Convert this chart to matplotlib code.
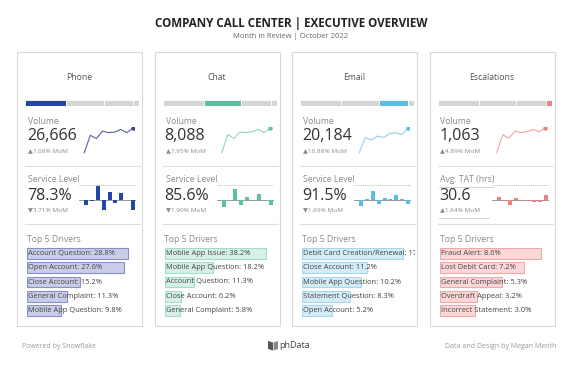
import matplotlib
matplotlib.use("Agg")
import matplotlib.pyplot as plt
from matplotlib.patches import Rectangle, Polygon

plt.rcParams['font.family'] = ['Open Sans', 'DejaVu Sans']

W, H = 582, 375

channels = ["Phone", "Chat", "Email", "Escalations"]
volume = [26666, 8088, 20184, 1063]
volume_mom = [7.68, 7.95, 10.88, 4.89]
kpi2_label = ["Service Level", "Service Level", "Service Level", "Avg. TAT (hrs)"]
kpi2_value = ["78.3%", "85.6%", "91.5%", "30.6"]
kpi2_mom = [-3.71, -1.90, -1.69, 1.64]
share = [36, 33, 26, 5]

volume_trend = [
    [16100, 23600, 22230, 25400, 24770, 24980, 26140, 24764, 26666],
    [4780, 7260, 6700, 7560, 7490, 7630, 7920, 7492, 8088],
    [12560, 17290, 16520, 17740, 17290, 18510, 18810, 18202, 20184],
    [706, 967, 920, 1020, 999, 1013, 1045, 1013, 1063],
]
kpi2_change = [
    [-1.9, -0.6, 5.0, -3.7, 2.7, -1.2, 2.5, -0.1, -3.71],
    [-2.8, -0.6, 3.9, -2.0, 1.1, -0.2, 1.9, -0.05, -1.90],
    [-2.3, 0.1, 3.2, -1.7, 0.6, 0.05, 1.7, 0.05, -1.69],
    [1.1, -0.4, -2.0, 0.7, -0.3, -0.4, -0.9, -0.9, 1.64],
]

driver_names = [
    ["Account Question", "Open Account", "Close Account", "General Complaint", "Mobile App Question"],
    ["Moblie App Issue", "Mobile App Question", "Account Question", "Close Account", "General Complaint"],
    ["Debit Card Creation/Renewal", "Close Account", "Mobile App Question", "Statement Question", "Open Account"],
    ["Fraud Alert", "Lost Debit Card", "General Complaint", "Overdraft Appeal", "Incorrect Statement"],
]
driver_pct = [
    [28.8, 27.6, 15.2, 11.3, 9.8],
    [38.2, 18.2, 11.3, 6.2, 5.8],
    [17.5, 11.2, 10.2, 8.3, 5.2],
    [8.6, 7.2, 5.3, 3.2, 3.0],
]

main_col = ["#2447a6", "#5cc1a1", "#5bbde0", "#f08080"]
line_col = ["#5b5fa6", "#8fd6c0", "#8fd0ea", "#f3a3a3"]
fill_col = ["#c9cde8", "#d6f0e8", "#d3ecf7", "#fbd7d7"]
edge_col = ["#8790c9", "#a4dccb", "#a6d7ee", "#f2a9a9"]

card_left = [17, 154.5, 292, 429.5]
card_w = 125
card_top, card_bot = 52, 326

GREY_TXT = "#8a8a8a"
DARK = "#333333"


def fx(x):
    return x / W


def fy(y):
    return 1 - y / H


def add_ax(x0, y0, x1, y1):
    ax = fig.add_axes([fx(x0), fy(y1), (x1 - x0) / W, (y1 - y0) / H])
    ax.axis("off")
    return ax


def hline(x0, x1, y, color="#dddddd", lw=0.8, ls="-"):
    fig.add_artist(plt.Line2D([fx(x0), fx(x1)], [fy(y), fy(y)], color=color, lw=lw, ls=ls,
                              transform=fig.transFigure))


fig = plt.figure(figsize=(W / 100, H / 100), dpi=100)
fig.patch.set_facecolor("white")

fig.text(0.5, fy(23), "COMPANY CALL CENTER | EXECUTIVE OVERVIEW", ha="center", va="center",
         fontsize=8.4, fontweight="bold", color="#222222")
fig.text(0.5, fy(37), "Month in Review | October 2022", ha="center", va="center",
         fontsize=5.5, color="#666666")

for i, ch in enumerate(channels):
    L = card_left[i]
    R = L + card_w
    fig.add_artist(Rectangle((fx(L), fy(card_bot)), card_w / W, (card_bot - card_top) / H,
                             transform=fig.transFigure, facecolor="none",
                             edgecolor="#d9d9d9", lw=0.8, zorder=-5))
    fig.text(fx((L + R) / 2), fy(77), ch, ha="center", va="center", fontsize=6.2, color="#555555")

    # share bar
    ax = add_ax(L + 8, 99.5, R - 3, 106)
    left = 0
    tot = sum(share)
    for j, s in enumerate(share):
        ax.barh(0, s, left=left, height=1, color=main_col[i] if j == i else "#d5d5d5",
                edgecolor="white", lw=0.6)
        left += s
    ax.set_xlim(0, tot)
    ax.set_ylim(-0.5, 0.5)

    # volume
    fig.text(fx(L + 11), fy(121.5), "Volume", ha="left", va="center", fontsize=6.2, color=GREY_TXT)
    fig.text(fx(L + 10), fy(136.5), f"{volume[i]:,}", ha="left", va="center", fontsize=11.5,
             color=DARK)
    fig.text(fx(L + 11), fy(150.5), f"\u25b2{volume_mom[i]:.2f}% MoM", ha="left", va="center",
             fontsize=4.6, color=GREY_TXT)
    ax = add_ax(L + 66, 127, L + 117, 154)
    tr = volume_trend[i]
    ax.plot(range(len(tr)), tr, color=line_col[i], lw=0.8)
    ax.plot(len(tr) - 1, tr[-1], "o", color=main_col[i] if i != 0 else "#3d3f99", ms=2.2)
    ax.set_xlim(-0.2, len(tr) - 0.8)

    hline(L + 8, R - 2, 166)

    # service level / TAT
    fig.text(fx(L + 11), fy(179), kpi2_label[i], ha="left", va="center", fontsize=6.2,
             color=GREY_TXT)
    fig.text(fx(L + 10), fy(196.5), kpi2_value[i], ha="left", va="center", fontsize=11.5,
             color=DARK)
    mark = "\u25b2" if kpi2_mom[i] > 0 else "\u25bc"
    fig.text(fx(L + 11), fy(210), f"{mark}{abs(kpi2_mom[i]):.2f}% MoM", ha="left", va="center",
             fontsize=4.6, color=GREY_TXT)
    if i == 3:
        hline(L + 9, L + 64, 187, color="#cfcfcf", lw=0.6)
        hline(L + 9, L + 59, 218, color="#cfcfcf", lw=0.6)
    ax = add_ax(L + 62, 184.5, L + 119, 214.5)
    ch_vals = kpi2_change[i]
    ax.bar(range(len(ch_vals)), ch_vals, width=0.68, color=main_col[i])
    ax.axhline(0, color="#888888", lw=0.6, xmin=0, xmax=1, zorder=0)
    ax.axhline(5.3, color="#b5b5b5", lw=0.7, ls=(0, (1, 1.2)))
    ax.axhline(-5.3, color="#b5b5b5", lw=0.7, ls=(0, (1, 1.2)))
    ax.set_xlim(-1.2, len(ch_vals) - 0.5)
    ax.set_ylim(-5.5, 5.5)

    hline(L + 8, R - 2, 224)

    # top drivers
    fig.text(fx(L + 10), fy(239), "Top 5 Drivers", ha="left", va="center", fontsize=6.2,
             color=GREY_TXT)
    ax = fig.add_axes([fx(L + 10), fy(318), (R - L - 12) / W, (318 - 246) / H])
    ax.axis("off")
    names = driver_names[i]
    pct = driver_pct[i]
    ax.barh(range(len(pct)), pct, height=0.76, color=fill_col[i], edgecolor=edge_col[i], lw=0.8)
    for k, (n, p) in enumerate(zip(names, pct)):
        ax.text(0.01 * max(pct), k, f"{n}: {p}%", ha="left", va="center",
                fontsize=5.4, color="#444444", clip_on=True)
    ax.set_xlim(0, max(pct) * 1.115)
    ax.set_ylim(len(pct) - 0.5, -0.5)

fig.text(fx(22), fy(346), "Powered by Snowflake", ha="left", va="center", fontsize=5,
         color="#9a9a9a")
fig.text(fx(556), fy(346), "Data and Design by Megan Menth", ha="right", va="center", fontsize=5,
         color="#9a9a9a")
# small book logo
fig.add_artist(Polygon([(fx(268), fy(341)), (fx(273), fy(342.5)), (fx(273), fy(350.5)),
                        (fx(268), fy(349))], closed=True, transform=fig.transFigure,
                       facecolor="#555555", edgecolor="none"))
fig.add_artist(Polygon([(fx(273.6), fy(342.5)), (fx(278), fy(341)), (fx(278), fy(349)),
                        (fx(273.6), fy(350.5))], closed=True, transform=fig.transFigure,
                       facecolor="#888888", edgecolor="none"))
fig.text(fx(279.5), fy(346), "phData", ha="left", va="center", fontsize=6.5, color="#444444")

fig.savefig("out.png", dpi=100, facecolor="white")
